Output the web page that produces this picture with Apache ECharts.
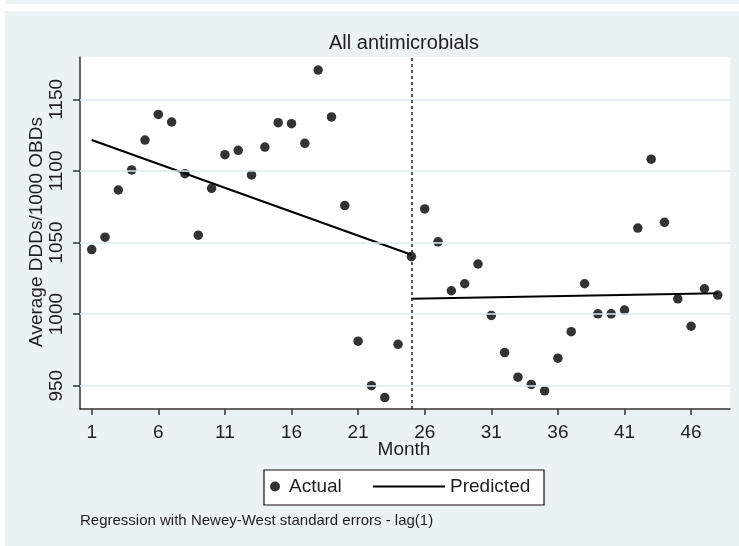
<!DOCTYPE html>
<html>
<head>
<meta charset="utf-8">
<script src="https://cdn.jsdelivr.net/npm/echarts@6/dist/echarts.min.js"></script>
<style>html,body{margin:0;padding:0;background:#fff;}#c{width:739px;height:546px;}</style>
</head>
<body>
<div id="c"></div>
<script>
// ---- data ----
const months = [1,2,3,4,5,6,7,8,9,10,11,12,13,14,15,16,17,18,19,20,21,22,23,24,25,26,27,28,29,30,31,32,33,34,35,36,37,38,39,40,41,42,43,44,45,46,47,48];
const actual = [1045.1,1053.7,1086.7,1100.7,1121.6,1139.5,1134.2,1098.1,1055.1,1087.9,
                1111.4,1114.4,1097.2,1116.7,1133.7,1133.0,1119.3,1170.5,1137.7,1075.8,
                981.1,950.0,941.7,978.9,1040.2,1073.5,1050.5,1016.3,1021.2,1035.0,
                999.1,973.1,955.9,950.9,946.4,969.2,987.7,1021.2,1000.2,1000.2,
                1002.8,1060.1,1108.2,1064.1,1010.7,991.5,1017.7,1013.3];
const predictedPreMonths = [1, 25];
const predictedPre = [1121.6, 1041.5];
const predictedPostMonths = [25, 48];
const predictedPost = [1010.8, 1014.5];
const interruptionMonth = 25;
const xTicks = [1,6,11,16,21,26,31,36,41,46];
const yTicks = [950,1000,1050,1100,1150];
const titleText = 'All antimicrobials';
const xName = 'Month';
const yName = 'Average DDDs/1000 OBDs';
const noteText = 'Regression with Newey-West standard errors - lag(1)';

const FONT = "'Liberation Sans', Arial, sans-serif";
const PANEL = '#EAF2F3';
const AXIS = '#333';
const TXT = '#1e1e1e';

const chart = echarts.init(document.getElementById('c'), null, {renderer:'canvas'});
const option = {
  animation: false,
  backgroundColor: PANEL,
  textStyle: {fontFamily: FONT},
  grid: {left: 80, top: 57, right: 9, bottom: 137, show: true, backgroundColor: '#fff', borderWidth: 0},
  xAxis: {
    type: 'value', min: 0.12, max: 48.92,
    axisLine: {show: true, onZero: false, lineStyle: {color: AXIS, width: 1.5}},
    axisTick: {show: true, length: 6, customValues: xTicks, lineStyle: {color: AXIS, width: 1.5}},
    axisLabel: {customValues: xTicks, fontSize: 19, color: TXT, margin: 14, fontFamily: FONT,
      formatter: v => String(v)},
    splitLine: {show: false}
  },
  yAxis: {
    type: 'value', min: 933.7, max: 1179.6,
    axisLine: {show: true, onZero: false, lineStyle: {color: AXIS, width: 1.5}},
    axisTick: {show: true, length: 7, customValues: yTicks, lineStyle: {color: AXIS, width: 1.5}},
    axisLabel: {customValues: yTicks, rotate: 90, fontSize: 19, color: TXT, margin: 14, fontFamily: FONT,
      formatter: v => String(v)},
    splitLine: {show: false}
  },
  legend: [
    {data: [{name: 'Actual', icon: 'circle'}], left: 270, top: 477, itemWidth: 18, itemHeight: 10, padding: 0,
     selectedMode: false, textStyle: {fontSize: 19, color: TXT, fontFamily: FONT}},
    {data: [{name: 'Predicted', icon: 'rect', itemStyle: {color: '#000'}}], left: 373, top: 477, itemWidth: 72, itemHeight: 2, padding: 0,
     selectedMode: false, textStyle: {fontSize: 19, color: TXT, fontFamily: FONT}}
  ],
  graphic: [
    {type: 'rect', shape: {x: 0, y: 0, width: 5, height: 546}, style: {fill: '#fff'}, silent: true},
    {type: 'rect', shape: {x: 0, y: 4, width: 739, height: 7}, style: {fill: '#fff'}, silent: true},
    {type: 'rect', shape: {x: 264, y: 470, width: 280, height: 35}, style: {fill: '#fff', stroke: '#111', lineWidth: 1.2}, silent: true, z: 0},
    {type: 'text', x: 404, y: 43, style: {text: titleText, fontSize: 20, fill: TXT, align: 'center', verticalAlign: 'middle', fontFamily: FONT}},
    {type: 'text', x: 404, y: 450, style: {text: xName, fontSize: 19, fill: TXT, align: 'center', verticalAlign: 'middle', fontFamily: FONT}},
    {type: 'text', x: 37, y: 232, rotation: Math.PI / 2, style: {text: yName, fontSize: 19, fill: TXT, align: 'center', verticalAlign: 'middle', fontFamily: FONT}},
    {type: 'text', x: 80, y: 521, style: {text: noteText, fontSize: 15, fill: TXT, align: 'left', verticalAlign: 'middle', fontFamily: FONT}}
  ],
  series: [
    {
      type: 'line', name: '_grid', data: [], z: 1, silent: true,
      markLine: {silent: true, symbol: 'none', label: {show: false}, animation: false,
        lineStyle: {color: '#DFEAEE', width: 1.5, type: 'solid'},
        emphasis: {disabled: true},
        data: yTicks.map(v => ({yAxis: v}))}
    },
    {
      type: 'line', name: 'Predicted', z: 3,
      data: predictedPreMonths.map((m, i) => [m, predictedPre[i]]),
      symbol: 'none', lineStyle: {color: '#000', width: 2}, itemStyle: {color: '#000'},
      markLine: {silent: true, symbol: 'none', label: {show: false}, animation: false,
        lineStyle: {color: '#222', width: 1.5, type: [3, 3]},
        emphasis: {disabled: true},
        data: [{xAxis: interruptionMonth}]}
    },
    {
      type: 'line', name: 'Predicted', z: 3,
      data: predictedPostMonths.map((m, i) => [m, predictedPost[i]]),
      symbol: 'none', lineStyle: {color: '#000', width: 2}, itemStyle: {color: '#000'}
    },
    {
      type: 'scatter', name: 'Actual', z: 4,
      data: months.map((m, i) => [m, actual[i]]),
      symbol: 'circle', symbolSize: 9.5, itemStyle: {color: '#000'}
    }
  ]
};
chart.setOption(option);
</script>
</body>
</html>
